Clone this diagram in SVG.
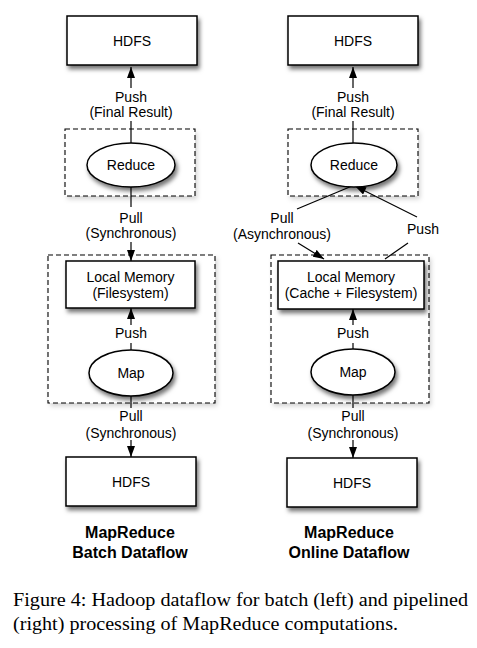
<svg xmlns="http://www.w3.org/2000/svg" width="477" height="648" viewBox="0 0 477 648">
<style>
.box{fill:#fff;stroke:#000;stroke-width:1.5;filter:url(#sh)}
.dash{fill:none;stroke:#000;stroke-width:1.1;stroke-dasharray:5,3}
.dashbg{fill:#fff;filter:url(#sh2)}
.ln{fill:none;stroke:#000;stroke-width:1.2}
.t{font-family:"Liberation Sans",Arial,Helvetica,sans-serif;font-size:14px;text-anchor:middle;fill:#000}
.b{font-family:"Liberation Sans",Arial,Helvetica,sans-serif;font-size:16px;font-weight:bold;text-anchor:middle;fill:#000}
.cap{font-family:"Liberation Serif","Times New Roman",serif;font-size:19px;fill:#000}
</style>
<defs>
<filter id="sh" x="-20%" y="-20%" width="150%" height="160%">
<feDropShadow dx="2" dy="3.5" stdDeviation="2.2" flood-color="#000" flood-opacity="0.55"/>
</filter>
<filter id="sh2" x="-20%" y="-20%" width="150%" height="160%">
<feDropShadow dx="2" dy="3" stdDeviation="2.5" flood-color="#000" flood-opacity="0.18"/>
</filter>
<marker id="ah" markerUnits="userSpaceOnUse" markerWidth="11" markerHeight="8" refX="11" refY="4" orient="auto">
<path d="M0,0 L11,4 L0,8 z" fill="#000"/>
</marker>
</defs>
<rect width="477" height="648" fill="#fff"/>

<!-- group containers -->
<g id="group-reduce-left"><rect class="dashbg" x="65" y="129" width="130" height="67"/><rect class="dash" x="65" y="129" width="130" height="67"/></g>
<g id="group-map-left"><rect class="dashbg" x="48" y="255" width="167" height="148"/><rect class="dash" x="48" y="255" width="167" height="148"/></g>
<g id="group-reduce-right"><rect class="dashbg" x="288" y="129" width="130" height="67"/><rect class="dash" x="288" y="129" width="130" height="67"/></g>
<g id="group-map-right"><rect class="dashbg" x="271" y="255" width="158" height="148"/><rect class="dash" x="271" y="255" width="158" height="148"/></g>

<!-- connectors -->
<g id="connectors">
<!-- left -->
<path class="ln" d="M131,143 V121"/>
<path class="ln" d="M131,88 V67" marker-end="url(#ah)"/>
<text class="t" x="131" y="102">Push</text>
<text class="t" x="131" y="117">(Final Result)</text>

<path class="ln" d="M131,187 V207"/>
<path class="ln" d="M131,242 V261" marker-end="url(#ah)"/>
<text class="t" x="131" y="223">Pull</text>
<text class="t" x="131" y="238">(Synchronous)</text>

<path class="ln" d="M131,350 V343"/>
<path class="ln" d="M131,325 V308" marker-end="url(#ah)"/>
<text class="t" x="131" y="338">Push</text>

<path class="ln" d="M131,396 V408"/>
<path class="ln" d="M131,440 V457" marker-end="url(#ah)"/>
<text class="t" x="131" y="421">Pull</text>
<text class="t" x="131" y="438">(Synchronous)</text>

<!-- right -->
<path class="ln" d="M353,143 V121"/>
<path class="ln" d="M353,88 V67" marker-end="url(#ah)"/>
<text class="t" x="353" y="102">Push</text>
<text class="t" x="353" y="117">(Final Result)</text>

<path class="ln" d="M352,186 L297,209"/>
<path class="ln" d="M298,243 L324,259" marker-end="url(#ah)"/>
<text class="t" x="282" y="223">Pull</text>
<text class="t" x="282" y="239">(Asynchronous)</text>

<path class="ln" d="M385,259 L408,243"/>
<path class="ln" d="M417,217 L355,186" marker-end="url(#ah)"/>
<text class="t" x="423" y="234">Push</text>

<path class="ln" d="M353,349 V343"/>
<path class="ln" d="M353,325 V309" marker-end="url(#ah)"/>
<text class="t" x="353" y="338">Push</text>

<path class="ln" d="M353,395 V408"/>
<path class="ln" d="M353,440 V458" marker-end="url(#ah)"/>
<text class="t" x="353" y="421">Pull</text>
<text class="t" x="353" y="438">(Synchronous)</text>
</g>

<!-- left nodes -->
<g id="hdfs-top-left"><rect class="box" x="67" y="16" width="130" height="49"/><text class="t" x="132" y="46">HDFS</text></g>
<g id="reduce-left"><ellipse class="box" cx="131" cy="165" rx="44" ry="22"/><text class="t" x="131" y="170">Reduce</text></g>
<g id="localmem-left"><rect class="box" x="66" y="261" width="129" height="47"/><text class="t" x="130.5" y="282">Local Memory</text><text class="t" x="130.5" y="298">(Filesystem)</text></g>
<g id="map-left"><ellipse class="box" cx="131" cy="373" rx="42" ry="23"/><text class="t" x="131" y="378">Map</text></g>
<g id="hdfs-bottom-left"><rect class="box" x="66" y="457" width="130" height="49"/><text class="t" x="131" y="487">HDFS</text></g>

<!-- right nodes -->
<g id="hdfs-top-right"><rect class="box" x="288" y="16" width="130" height="49"/><text class="t" x="353" y="46">HDFS</text></g>
<g id="reduce-right"><ellipse class="box" cx="354" cy="165" rx="43" ry="22"/><text class="t" x="354" y="170">Reduce</text></g>
<g id="localmem-right"><rect class="box" x="278" y="261" width="146" height="48"/><text class="t" x="351" y="282">Local Memory</text><text class="t" x="351" y="298">(Cache + Filesystem)</text></g>
<g id="map-right"><ellipse class="box" cx="353" cy="372" rx="42" ry="23"/><text class="t" x="353" y="377">Map</text></g>
<g id="hdfs-bottom-right"><rect class="box" x="287" y="458" width="130" height="49"/><text class="t" x="352" y="488">HDFS</text></g>

<!-- titles -->
<text class="b" x="130" y="538">MapReduce</text>
<text class="b" x="130" y="558">Batch Dataflow</text>
<text class="b" x="349" y="538">MapReduce</text>
<text class="b" x="349" y="558">Online Dataflow</text>

<!-- caption -->
<text class="cap" x="13" y="606" textLength="455" lengthAdjust="spacingAndGlyphs">Figure 4: Hadoop dataflow for batch (left) and pipelined</text>
<text class="cap" x="13" y="630" textLength="385" lengthAdjust="spacingAndGlyphs">(right) processing of MapReduce computations.</text>
</svg>
